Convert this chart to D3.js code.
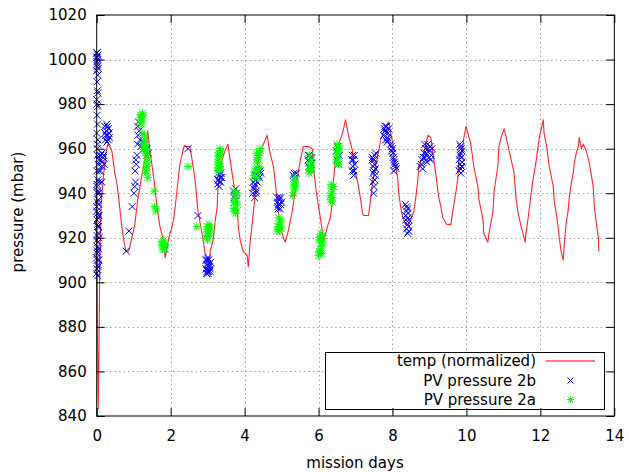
<!DOCTYPE html>
<html><head><meta charset="utf-8">
<script src="https://cdn.jsdelivr.net/npm/d3@7"></script>
<style>
html,body{margin:0;padding:0;background:#fff;}
text{font-family:"DejaVu Sans",sans-serif;font-size:15px;fill:#000;}
</style></head>
<body><svg id="c" width="629" height="472"></svg>
<script>
// ---- data ----
const xTicks = [0,2,4,6,8,10,12,14];
const yTicks = [840,860,880,900,920,940,960,980,1000,1020];
const seriesNames = ["temp (normalized)","PV pressure 2b","PV pressure 2a"];
const xLabel = "mission days";
const yLabel = "pressure (mbar)";

const tempDays = [0.00,0.02,0.04,0.06,0.08,0.12,0.19,0.25,0.30,0.35,0.41,0.49,0.55,0.60,0.68,0.73,0.79,0.87,0.95,1.03,1.11,1.22,1.30,1.34,1.38,1.44,1.55,1.63,1.71,1.82,1.85,1.90,1.95,2.04,2.09,2.17,2.25,2.36,2.52,2.58,2.66,2.74,2.85,2.93,3.01,3.05,3.07,3.15,3.20,3.26,3.28,3.39,3.47,3.55,3.61,3.66,3.74,3.80,3.83,3.88,3.96,4.07,4.10,4.15,4.21,4.29,4.34,4.37,4.48,4.56,4.61,4.69,4.78,4.83,4.91,4.97,5.05,5.10,5.18,5.29,5.37,5.45,5.51,5.59,5.73,5.83,5.86,5.92,6.00,6.05,6.11,6.13,6.24,6.32,6.38,6.40,6.46,6.54,6.65,6.73,6.81,6.92,6.95,7.06,7.14,7.19,7.22,7.35,7.41,7.46,7.54,7.63,7.68,7.82,7.90,8.01,8.03,8.14,8.17,8.22,8.28,8.36,8.44,8.49,8.58,8.63,8.68,8.71,8.82,8.90,8.96,9.04,9.09,9.17,9.25,9.31,9.36,9.47,9.58,9.63,9.72,9.77,9.80,9.90,9.93,9.99,10.04,10.12,10.20,10.31,10.34,10.45,10.47,10.58,10.61,10.72,10.75,10.85,10.88,10.94,11.02,11.13,11.21,11.29,11.34,11.40,11.48,11.53,11.59,11.61,11.67,11.75,11.80,11.89,11.97,12.08,12.10,12.16,12.24,12.35,12.37,12.43,12.48,12.51,12.56,12.62,12.65,12.70,12.75,12.78,12.84,12.89,12.92,12.97,13.03,13.05,13.11,13.16,13.24,13.32,13.43,13.46,13.51,13.57,13.58];
const tempValues = [946,880,843,865,905,935,949,958,962,961,959,949,944,937,925,919,914,914,920,926,937,948,955,959,968,959,946,934,925,918,911,915,920,925,929,941,953,961,961,955,946,932,922,913,911,908,914,919,927,934,943,955,959,962,955,949,941,934,925,919,914,912,907,918,927,940,949,958,961,964,966,958,952,945,932,925,920,918,923,932,941,949,955,961,961,960,952,943,934,929,922,918,925,929,937,945,955,962,967,973,966,959,952,945,937,931,930,930,937,945,952,959,964,970,972,962,956,947,940,934,929,926,926,928,932,938,945,952,956,962,966,965,958,949,938,934,929,926,926,932,941,947,955,961,965,970,967,962,952,943,937,928,922,918,922,932,941,952,961,965,969,961,955,949,938,931,925,922,918,922,929,940,946,955,965,973,967,962,952,943,937,931,925,920,914,910,918,927,932,938,945,949,954,958,961,965,960,962,959,954,943,934,927,920,914];

const pv2bDays = [0.00,0.02,0.01,0.03,0.02,0.00,0.03,0.01,0.02,0.00,0.03,0.01,0.02,0.00,0.03,0.01,0.02,0.04,0.00,0.03,0.01,0.02,0.04,0.00,0.03,0.01,0.02,0.04,0.00,0.03,0.01,0.02,0.04,0.00,0.03,0.05,0.05,0.05,0.05,0.05,0.06,0.06,
 0.01,0.03,0.02,0.00,0.04,0.02,0.01,0.03,0.02,0.00,0.04,0.01,0.03,0.01,0.02,0.04,0.00,0.03,0.01,0.02,0.06,0.06,0.06,0.07,
 0.22,0.26,0.30,0.24,0.28,0.32,0.34,0.27,0.25,0.08,0.12,0.16,0.10,0.18,0.14,0.20,0.14,
 0.23,0.29,0.31,0.33,0.11,0.15,0.19,
 0.80,0.87,0.96,1.01,1.03,1.05,1.04,1.07,1.09,1.06,1.10,1.12,1.11,1.13,1.15,1.17,1.20,1.24,1.28,1.32,1.36,1.40,
 1.84,2.47,2.74,
 2.95,2.98,3.00,3.02,3.05,3.08,2.97,3.03,3.06,3.00,
 2.96,2.99,3.01,3.04,3.07,3.02,2.99,
 3.27,3.30,3.33,3.36,3.29,3.35,3.38,3.31,3.28,3.32,3.34,
 3.70,3.74,3.78,3.72,3.76,
 4.22,4.25,4.28,4.30,4.33,4.36,4.27,4.32,4.40,4.44,4.24,
 4.26,4.29,4.31,4.34,4.38,4.42,
 4.88,4.92,4.96,5.00,4.94,4.90,4.98,4.89,4.93,4.97,4.91,
 5.32,5.36,5.40,5.34,
 5.72,5.76,5.80,5.78,5.82,5.74,5.75,5.79,5.73,
 6.48,6.52,6.56,6.50,6.54,
 6.90,6.93,6.96,6.92,6.98,6.95,6.91,6.94,6.97,
 7.45,7.48,7.52,7.50,7.47,7.49,7.53,7.55,7.51,7.46,7.50,7.54,7.48,7.52,7.50,
 7.76,7.80,7.84,7.88,7.82,7.86,7.90,7.78,7.82,7.86,7.80,7.88,
 7.95,7.98,8.02,8.06,8.10,8.00,8.04,7.97,8.01,8.05,8.08,8.03,
 8.35,8.38,8.42,8.40,8.44,8.37,8.41,8.43,8.36,8.39,8.42,8.38,8.41,8.44,
 8.75,8.80,8.85,8.90,8.95,9.00,9.05,8.88,8.82,8.93,9.02,
 8.78,8.84,8.91,8.97,9.03,8.87,8.99,9.07,
 9.80,9.83,9.86,9.88,9.85,9.82,9.87,9.84,
 9.81,9.84,9.86,9.83,9.88,9.85];
const pv2bValues = [1003,1001,999,1000,997,995,993,990,986,982,979,975,971,967,964,960,957,953,950,946,943,940,937,934,931,928,925,922,919,916,913,910,907,904,903,935,925,915,945,930,920,910,
 944,941,936,932,929,926,921,918,914,911,908,906,1002,1003,998,996,1001,985,980,962,930,940,955,950,
 970,968,966,964,963,969,965,971,966,957,955,952,950,956,958,953,945,
 967,970,964,967,957,954,957,
 914,923,934,940,943,945,950,953,957,955,962,966,970,972,968,964,961,963,960,962,960,958,
 915,960,930,
 910,908,906,905,907,909,904,910,905,911,
 906,910,904,908,906,907,905,
 944,946,948,949,949,945,947,943,946,945,947,
 941,939,940,938,942,
 940,942,944,946,948,950,938,941,947,949,945,
 943,948,940,945,948,950,
 938,935,933,936,937,934,938,936,938,935,933,
 948,947,949,949,
 955,957,953,951,956,952,954,956,957,
 959,961,957,955,953,
 955,952,950,957,953,948,950,955,957,
 955,952,957,950,945,940,948,958,953,956,955,951,949,946,943,
 966,968,970,967,964,963,969,969,967,965,970,964,
 962,959,956,953,951,960,955,961,958,954,952,950,
 935,932,929,926,923,928,933,925,930,934,931,924,922,928,
 952,955,958,960,962,959,957,956,951,954,961,
 953,956,958,960,955,962,956,960,
 950,953,956,959,961,962,952,958,
 955,951,960,957,954,949];

const pv2aDays = [1.18,1.21,1.24,1.20,1.23,1.19,1.22,1.25,
 1.25,1.28,1.31,1.34,1.36,1.33,1.38,1.30,1.27,1.35,
 1.29,1.32,1.35,1.37,1.34,1.31,
 1.55,1.57,1.60,
 1.75,1.80,1.85,1.78,1.77,1.82,1.83,
 2.47,2.71,
 2.95,2.98,3.02,3.05,3.00,3.08,2.97,3.01,3.04,2.99,
 3.27,3.30,3.32,3.35,3.28,3.33,3.31,3.29,3.31,3.34,3.28,3.33,
 3.70,3.74,3.78,3.72,3.76,3.80,3.71,3.75,3.77,3.73,3.79,
 4.25,4.30,4.34,4.38,4.42,4.35,4.40,4.32,4.28,4.33,4.37,4.41,4.36,4.30,
 4.88,4.93,4.97,4.92,5.00,4.90,4.95,4.98,4.94,
 5.30,5.34,5.38,5.36,5.32,5.33,5.37,5.35,
 5.74,5.78,5.82,5.76,5.80,5.77,5.81,5.75,
 6.00,6.04,6.08,6.12,6.06,6.02,6.10,6.01,6.05,6.09,6.03,6.07,6.11,
 6.32,6.36,6.40,6.34,6.38,6.35,6.37,6.33,
 6.48,6.52,6.56,6.50,6.54,6.49,6.53,6.55,6.51];
const pv2aValues = [975,973,976,971,974,974,972,975,
 967,963,960,957,954,950,947,964,961,952,
 966,962,959,956,949,958,
 941,934,932,
 918,916,917,915,917,919,915,
 952,925,
 920,923,925,921,919,924,921,922,926,925,
 950,953,956,959,957,960,951,955,958,952,953,950,
 933,936,939,941,931,935,936,933,938,932,940,
 948,951,954,957,960,947,952,958,950,955,950,958,956,947,
 923,925,927,929,924,925,923,928,926,
 939,942,945,947,944,940,943,946,
 949,952,955,957,950,954,951,951,
 912,915,918,921,922,919,913,914,913,916,920,920,918,
 937,940,943,944,938,942,936,939,
 954,957,960,962,953,958,955,961,959];

// ---- layout ----
const plot = {left: 96.7, right: 614.3, top: 15, bottom: 416};
const svg = d3.select("#c");
const x = d3.scaleLinear().domain([0,14]).range([plot.left, plot.right]);
const y = d3.scaleLinear().domain([840,1020]).range([plot.bottom, plot.top]);

const legend = {x0: 325, y0: 352, x1: 604, y1: 409};

// grid
const grid = svg.append("g").attr("stroke","#a0a0a0").attr("stroke-width",1).attr("stroke-dasharray","1.5,3");
xTicks.slice(1,-1).forEach(t => {
  grid.append("line").attr("x1",Math.round(x(t))+0.5).attr("x2",Math.round(x(t))+0.5)
    .attr("y1",plot.top).attr("y2",plot.bottom);
});
yTicks.slice(1,-1).forEach(t => {
  grid.append("line").attr("y1",Math.round(y(t))+0.5).attr("y2",Math.round(y(t))+0.5)
    .attr("x1",plot.left).attr("x2",plot.right);
});

// data
const dataG = svg.append("g");

const tempPts = tempDays.map((d,i)=>[d,tempValues[i]]);
const line = d3.line().x(d=>x(d[0])).y(d=>y(d[1]));
dataG.append("path").datum(tempPts).attr("d",line).attr("fill","none")
  .attr("stroke","#ff0000").attr("stroke-width",1.1).attr("stroke-opacity",0.85).attr("stroke-linejoin","round");

const crossPath = "M-3.5,-3.5L3.5,3.5M-3.5,3.5L3.5,-3.5";
const starPath = "M-3.5,-3.5L3.5,3.5M-3.5,3.5L3.5,-3.5M-4,0L4,0M0,-4L0,4";

const pv2b = pv2bDays.map((d,i)=>[d,pv2bValues[i]]);
dataG.append("g").selectAll("path").data(pv2b).join("path")
  .attr("transform",d=>`translate(${x(d[0])},${y(d[1])})`)
  .attr("d",crossPath).attr("fill","none").attr("stroke","#0000ff").attr("stroke-width",1);

const pv2a = pv2aDays.map((d,i)=>[d,pv2aValues[i]]);
dataG.append("g").selectAll("path").data(pv2a).join("path")
  .attr("transform",d=>`translate(${x(d[0])},${y(d[1])})`)
  .attr("d",starPath).attr("fill","none").attr("stroke","#00ff00").attr("stroke-width",1);

// legend
const lg = svg.append("g");
lg.append("rect").attr("x",legend.x0+0.5).attr("y",legend.y0+0.5)
  .attr("width",legend.x1-legend.x0).attr("height",legend.y1-legend.y0)
  .attr("fill","#fff").attr("stroke","#000").attr("stroke-width",1);
const rowY = [361, 380.5, 399.5];
seriesNames.forEach((n,i)=>{
  lg.append("text").attr("x",536).attr("y",rowY[i]).attr("dy","0.36em")
    .attr("text-anchor","end").text(n);
});
lg.append("line").attr("x1",546).attr("x2",595).attr("y1",rowY[0]).attr("y2",rowY[0])
  .attr("stroke","#ff0000").attr("stroke-width",1.3).attr("stroke-opacity",0.7);
lg.append("path").attr("transform",`translate(570.5,${rowY[1]})`).attr("d","M-3,-3L3,3M-3,3L3,-3")
  .attr("fill","none").attr("stroke","#0000ff").attr("stroke-width",1);
lg.append("path").attr("transform",`translate(570.5,${rowY[2]})`).attr("d","M-3,-3L3,3M-3,3L3,-3M-3.5,0L3.5,0M0,-3.5L0,3.5")
  .attr("fill","none").attr("stroke","#00ff00").attr("stroke-width",1);

// axes (gnuplot style: inward ticks, mirrored)
const axG = svg.append("g");
const tickLen = 8;
const xAxisB = d3.axisBottom(x).tickValues(xTicks).tickSize(-tickLen).tickPadding(14).tickFormat(d3.format("d"));
const xAxisT = d3.axisTop(x).tickValues(xTicks).tickSize(-tickLen).tickFormat("");
const yAxisL = d3.axisLeft(y).tickValues(yTicks).tickSize(-tickLen).tickPadding(10).tickFormat(d3.format("d"));
const yAxisR = d3.axisRight(y).tickValues(yTicks).tickSize(-tickLen).tickFormat("");
function style(g){ g.select(".domain").remove(); g.selectAll("line").attr("stroke","#000").attr("stroke-width",1);
  g.selectAll("text").attr("font-family","DejaVu Sans").attr("font-size",15).attr("fill","#000"); }
axG.append("g").attr("transform",`translate(0,${plot.bottom})`).call(xAxisB).call(style);
axG.append("g").attr("transform",`translate(0,${plot.top})`).call(xAxisT).call(style);
axG.append("g").attr("transform",`translate(${plot.left},0)`).call(yAxisL).call(style);
axG.append("g").attr("transform",`translate(${plot.right},0)`).call(yAxisR).call(style);

// border
svg.append("rect").attr("x",plot.left).attr("y",plot.top)
  .attr("width",plot.right-plot.left).attr("height",plot.bottom-plot.top)
  .attr("fill","none").attr("stroke","#000").attr("stroke-width",1);

// axis titles
svg.append("text").attr("x",355).attr("y",468).attr("text-anchor","middle").text(xLabel);
svg.append("text").attr("transform","translate(23,212) rotate(-90)").attr("text-anchor","middle").text(yLabel);
</script></body></html>
